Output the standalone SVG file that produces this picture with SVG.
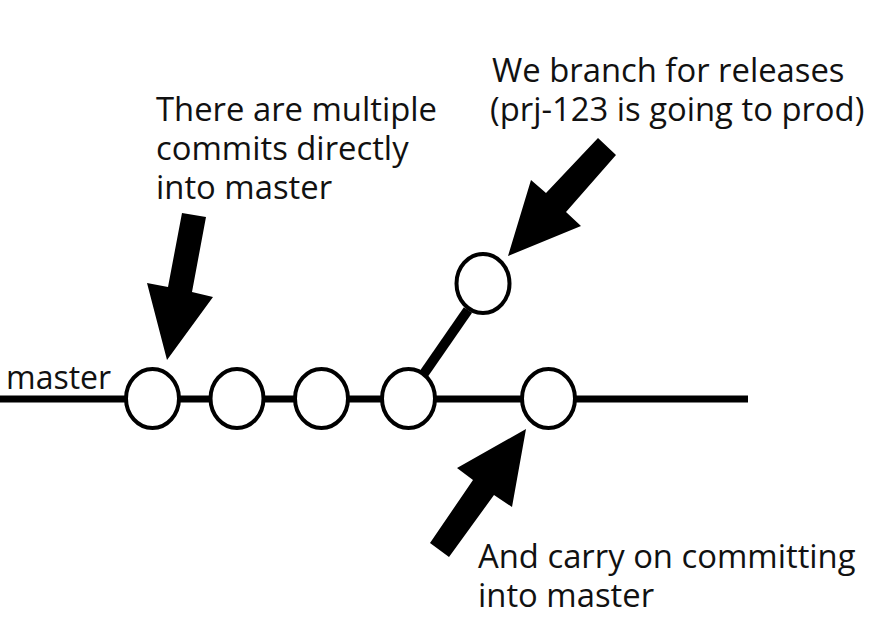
<svg xmlns="http://www.w3.org/2000/svg" width="871" height="625" viewBox="0 0 871 625">
<style>
.t{font-family:"Open Sans","Noto Sans",sans-serif;font-size:32.8px;fill:#111}
.c{fill:#fff;stroke:#000;stroke-width:4}
.ln{stroke:#000;fill:none}
.ar{fill:#000}
</style>
<rect width="871" height="625" fill="#fff"/>
<g id="connectors">
<line class="ln" x1="0" y1="399" x2="748" y2="399" stroke-width="7"/>
<line class="ln" x1="423" y1="375" x2="468" y2="310" stroke-width="10"/>
</g>
<g id="c1"><ellipse class="c" cx="152.5" cy="398.5" rx="26.5" ry="29.5"/></g>
<g id="c2"><ellipse class="c" cx="237" cy="398.5" rx="26.5" ry="29.5"/></g>
<g id="c3"><ellipse class="c" cx="321.5" cy="398.5" rx="26.5" ry="29.5"/></g>
<g id="c4"><ellipse class="c" cx="408.5" cy="398.5" rx="26.5" ry="29.5"/></g>
<g id="c5"><ellipse class="c" cx="548.5" cy="398.5" rx="26.5" ry="29.5"/></g>
<g id="c6"><ellipse class="c" cx="483" cy="283.5" rx="26.5" ry="29.5"/></g>
<g id="arrows">
<polygon class="ar" points="182,213 206,217 192,292 213,297 167,360 147,283 168,287"/>
<polygon class="ar" points="598,138 616,155 566,212 581,226 508,256 531,180 546,193"/>
<polygon class="ar" points="430,543 449,557 494,495 512,507 526,429 457,468 473,480"/>
</g>
<g id="labels">
<text class="t" x="156" y="121"><tspan x="156">There are multiple</tspan><tspan x="156" dy="39">commits directly</tspan><tspan x="156" dy="39">into master</tspan></text>
<text class="t" x="492" y="82"><tspan x="492">We branch for releases</tspan><tspan x="490" dy="39">(prj-123 is going to prod)</tspan></text>
<text class="t" x="6" y="389" style="font-size:32px">master</text>
<text class="t" x="478" y="568"><tspan x="478">And carry on committing</tspan><tspan x="478" dy="39">into master</tspan></text>
</g>
</svg>
